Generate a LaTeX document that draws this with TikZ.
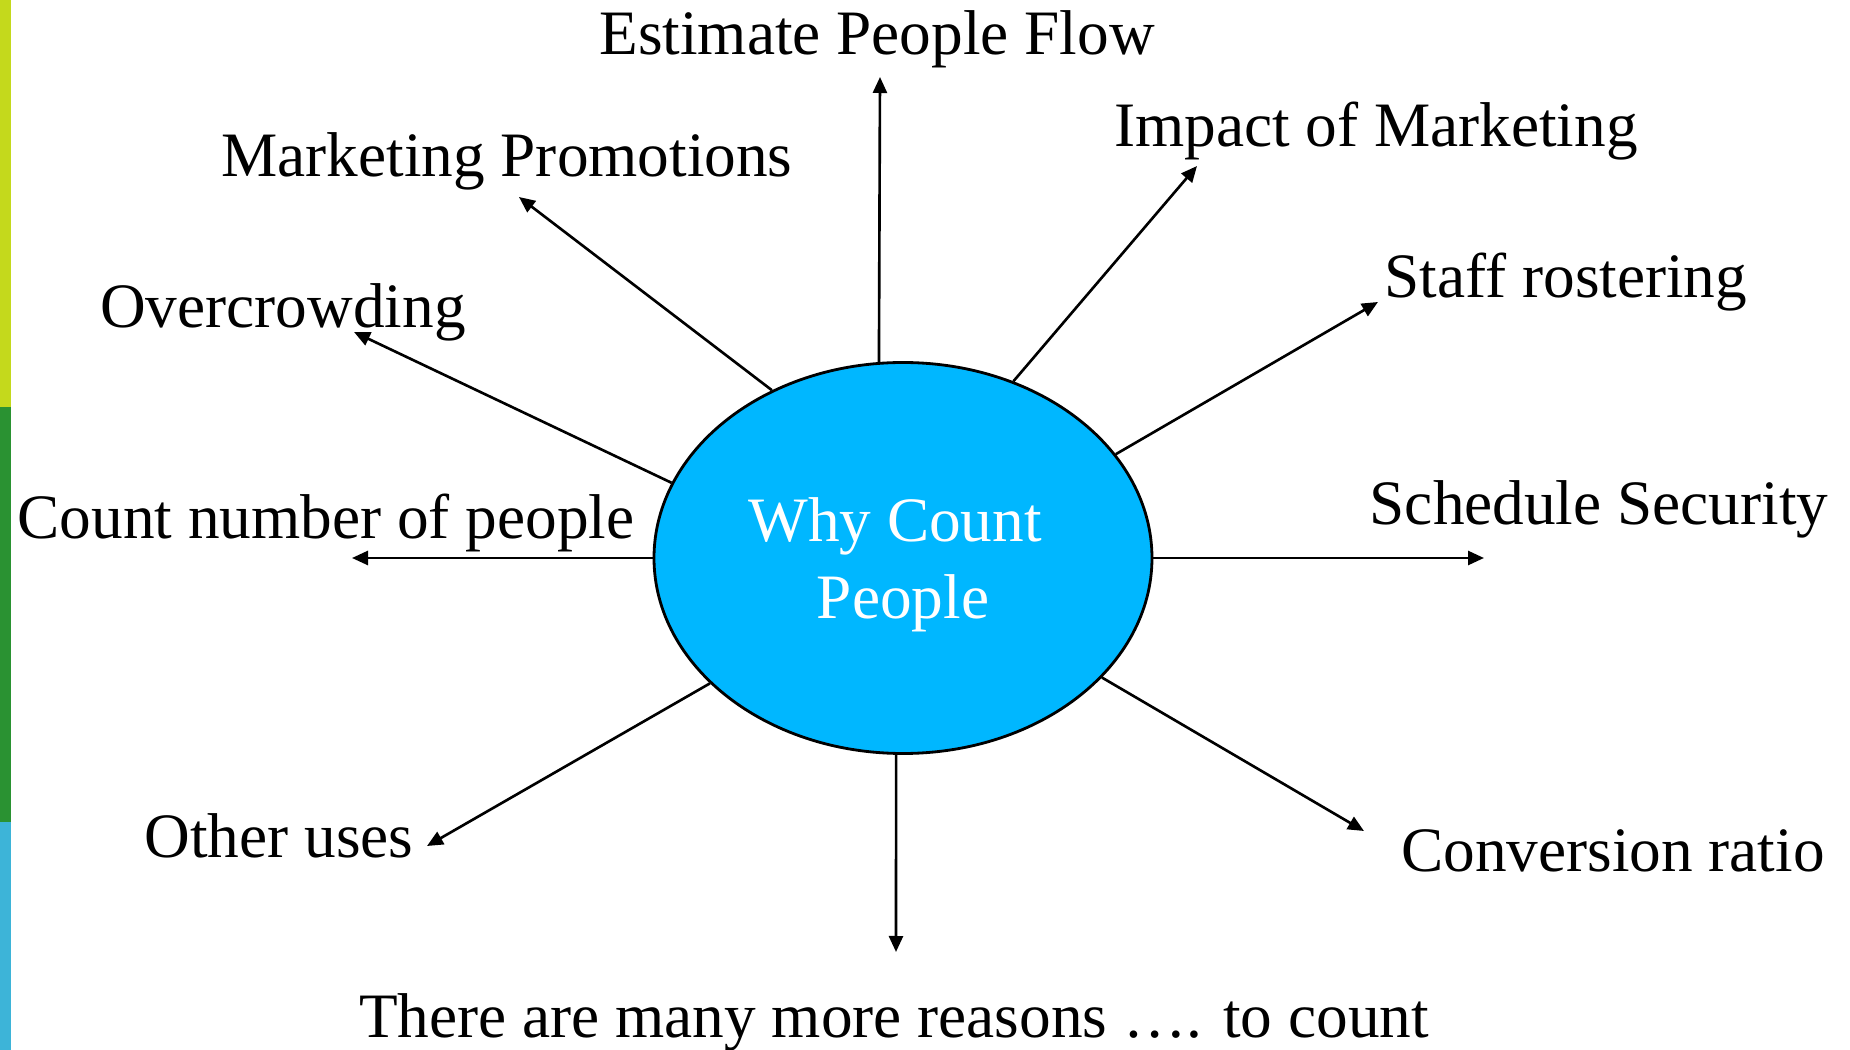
\documentclass[tikz,border=0pt]{standalone}
\usepackage{fontspec}
\setmainfont{Liberation Serif}
\usetikzlibrary{shapes.geometric,arrows.meta}
\definecolor{hubblue}{RGB}{0,183,255}
\definecolor{barlime}{RGB}{196,217,28}
\definecolor{bargreen}{RGB}{42,146,50}
\definecolor{barblue}{RGB}{61,180,216}
\tikzstyle{hub}=[draw, ellipse, fill=hubblue, line width=0.8pt, minimum width=49.8mm, minimum height=39.1mm, inner sep=0pt, text depth=0pt, text=white, align=center, font=\fontsize{18}{22}\selectfont]
\tikzstyle{reason}=[anchor=base, inner sep=0pt, font=\fontsize{18}{22}\selectfont]
\tikzstyle{edge}=[draw, line width=0.75pt, -{Triangle[length=1.6mm,width=1.4mm]}]

\begin{document}
\begin{tikzpicture}[x=0.1mm, y=-0.1mm]
    \useasboundingbox (0,0) rectangle (1850,1050);
    % side bar
    \fill[barlime] (0,0) rectangle (11,407);
    \fill[bargreen] (0,407) rectangle (11,822);
    \fill[barblue] (0,822) rectangle (11,1050);

    \node[hub] (hub) at (903,558) {Why Count\kern0.25em\\People};

    \foreach \pos/\name/\txt in {
                            {(877,55)/flow/Estimate People Flow},
                            {(1376,147)/impact/Impact of Marketing},
                            {(507,177)/promo/Marketing Promotions},
                            {(1566,298)/staff/Staff rostering},
                            {(283,328)/crowd/Overcrowding},
                            {(1599,525)/security/Schedule Security},
                            {(326,539)/count/Count number of people},
                            {(279,858)/other/Other uses},
                            {(1613,872)/conversion/Conversion ratio},
                            {(894,1038)/more/There are many more reasons …. to count}}
        \node[reason] (\name) at \pos {\txt};

    \foreach \x/\y/\name in {
                            880/77/flowtip,
                            1197/166/impacttip,
                            519/197/promotip,
                            1378/302/stafftip,
                            354/332/crowdtip,
                            1484/558/securitytip,
                            352/558/counttip,
                            427/846/othertip,
                            1364/831/conversiontip,
                            896/952/moretip}
        \coordinate (\name) at (\x,\y);

    % Connect the hub with every reason
    \foreach \ang/\tip in {97/flowtip, 58/impacttip, 128/promotip, 26/stafftip,
                           162/crowdtip, 0/securitytip, 180/counttip, 213/othertip,
                           329/conversiontip, 268/moretip}
        \draw[edge] (hub.\ang) -- (\tip);

\end{tikzpicture}
\end{document}
